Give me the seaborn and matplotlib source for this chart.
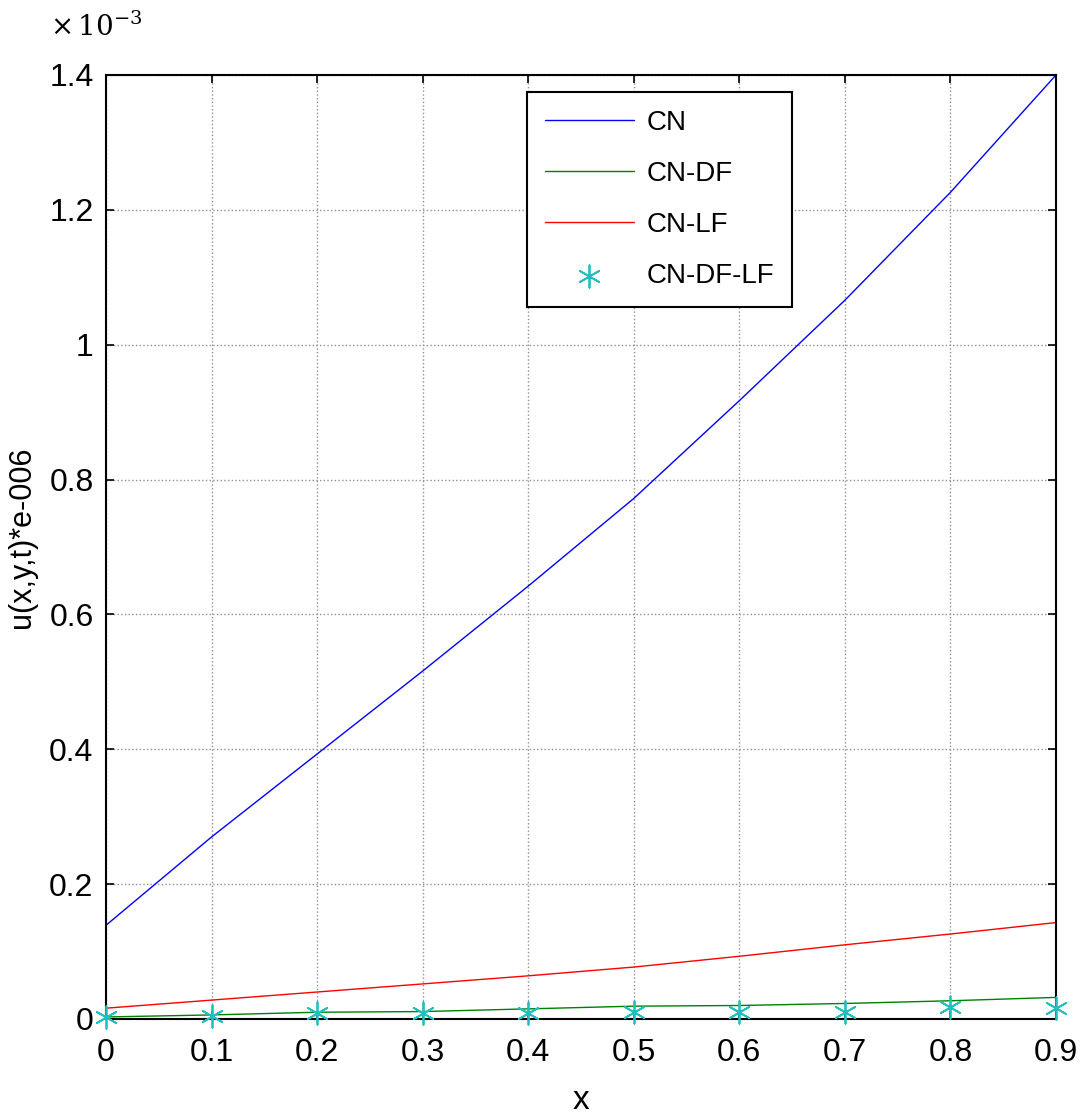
import numpy as np
import pandas as pd
import matplotlib
matplotlib.use("Agg")
import matplotlib.pyplot as plt
import seaborn as sns

# values in units of 1e-3
x = [0.0, 0.1, 0.2, 0.3, 0.4, 0.5, 0.6, 0.7, 0.8, 0.9]
cn = [0.139, 0.270, 0.393, 0.516, 0.642, 0.772, 0.917, 1.066, 1.226, 1.400]
cn_df = [0.003, 0.006, 0.010, 0.011, 0.015, 0.019, 0.020, 0.023, 0.027, 0.032]
cn_lf = [0.016, 0.028, 0.040, 0.052, 0.064, 0.077, 0.093, 0.110, 0.126, 0.143]
cn_df_lf = [0.003, 0.005, 0.009, 0.009, 0.009, 0.010, 0.010, 0.010, 0.018, 0.016]
xticks = [0, 0.1, 0.2, 0.3, 0.4, 0.5, 0.6, 0.7, 0.8, 0.9]
xticklabels = ["0", "0.1", "0.2", "0.3", "0.4", "0.5", "0.6", "0.7", "0.8", "0.9"]
yticks = [0, 0.2, 0.4, 0.6, 0.8, 1.0, 1.2, 1.4]
yticklabels = ["0", "0.2", "0.4", "0.6", "0.8", "1", "1.2", "1.4"]

sns.set_style("ticks")
plt.rcParams['font.family'] = ['Liberation Sans', 'DejaVu Sans']
plt.rcParams['text.color'] = 'black'
plt.rcParams['axes.labelcolor'] = 'black'
plt.rcParams['xtick.color'] = 'black'
plt.rcParams['ytick.color'] = 'black'

fig = plt.figure(figsize=(10.82, 11.14), dpi=100)
ax = fig.add_axes([0.098, 0.0853, 0.878, 0.8474])

df = pd.DataFrame({"x": x, "CN": cn, "CN-DF": cn_df, "CN-LF": cn_lf, "CN-DF-LF": cn_df_lf})

sns.lineplot(data=df, x="x", y="CN", ax=ax, color="#0000ff", lw=1.0, label="CN")
sns.lineplot(data=df, x="x", y="CN-DF", ax=ax, color="#008000", lw=1.0, label="CN-DF")
sns.lineplot(data=df, x="x", y="CN-LF", ax=ax, color="#ff0000", lw=1.0, label="CN-LF")
sns.scatterplot(data=df, x="x", y="CN-DF-LF", ax=ax, color="#20c0c0", marker=(6, 2, 0),
                s=260, linewidth=1.3, label="CN-DF-LF", zorder=5, clip_on=False)

ax.set_xlim(0, 0.9)
ax.set_ylim(0, 1.4)
ax.set_xticks(xticks)
ax.set_xticklabels(xticklabels)
ax.set_yticks(yticks)
ax.set_yticklabels(yticklabels)
ax.tick_params(direction="in", top=True, right=True, length=6, width=1.2,
               labelsize=23, colors="black")
ax.tick_params(axis="x", pad=14)
ax.tick_params(axis="y", pad=9)
ax.grid(True, linestyle=":", color="#909090", linewidth=1.0)
for s in ax.spines.values():
    s.set_linewidth(1.5)
    s.set_color("black")

ax.set_xlabel("x", fontsize=24)
ax.xaxis.set_label_coords(0.5, -0.07)
ax.set_ylabel("u(x,y,t)*e-006", fontsize=22)
ax.yaxis.set_label_coords(-0.073, 0.51)

fig.text(0.046, 0.975, r"$\times\,10^{-3}$", fontsize=20, ha="left", va="center",
         math_fontfamily="dejavuserif")

leg = ax.legend(loc="upper left", bbox_to_anchor=(0.443, 0.982), fontsize=20,
                frameon=True, fancybox=False, edgecolor="black", framealpha=1,
                handlelength=3.2, borderpad=0.65, labelspacing=0.9, handletextpad=0.45,
                borderaxespad=0)
leg.get_frame().set_linewidth(1.5)

fig.savefig("out.png", dpi=100)
